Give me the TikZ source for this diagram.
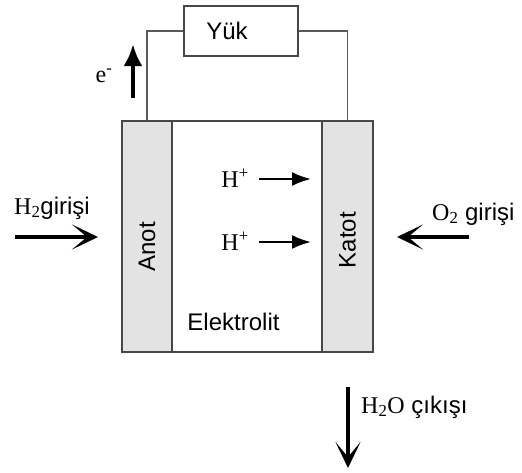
\documentclass[tikz,border=0pt]{standalone}
\usepackage{fontspec}
\setmainfont{Liberation Sans}
\newfontfamily\tms{Liberation Serif}
\usetikzlibrary{arrows.meta}
\begin{document}
\begin{tikzpicture}[x=1pt,y=-1pt,
  every node/.style={font=\fontsize{24}{27}\selectfont, inner sep=0pt},
  part/.style={draw=black!72, line width=1.8pt, minimum height=231pt, inner sep=0pt},
  strip/.style={part, fill=gray!22},
  wire/.style={draw=black!65, line width=1.5pt},
  bigarrow/.style={line width=4.2pt, -{Stealth[length=26pt, width=25pt, inset=15pt]}},
  uparrow/.style={line width=4.5pt, -{Latex[length=22pt, width=19pt]}},
  smallarrow/.style={line width=2.2pt, -{Latex[length=19pt, width=14pt]}}
]
\useasboundingbox (0,0) rectangle (522,472);

% cell parts
\node[strip, minimum width=50pt] (anot) at (147,236.5) {};
\node[part, minimum width=150pt] (elek) at (247,236.5) {};
\node[strip, minimum width=51pt] (katot) at (347.5,236.5) {};
\node[rotate=90] (anottxt) at (147,247) {Anot};
\node[rotate=90] (katottxt) at (347.5,240) {Katot};
\node (elektxt) at (233.5,322) {Elektrolit};

% load
\node[draw=black!72, line width=1.5pt, minimum width=114pt, minimum height=50pt] (yuk) at (241,31) {};
\node (yuktxt) at (227,31) {Yük};
\draw[wire] (yuk.west) -| (anot.north);
\draw[wire] (yuk.east) -| (katot.north);

% electron arrow
\coordinate (eS) at (133,98);
\coordinate (eE) at (133,44);
\draw[uparrow] (eS) -- (eE);
\node (etxt) at (104,76) {\tms e\textsuperscript{-}};

% H2 inlet
\coordinate (h2S) at (15,237);
\coordinate (h2E) at (98,237);
\draw[bigarrow] (h2S) -- (h2E);
\node[anchor=west] (h2txt) at (14,208) {{\tms H\textsubscript{2}}girişi};

% O2 inlet
\coordinate (o2S) at (469,237);
\coordinate (o2E) at (397,237);
\draw[bigarrow] (o2S) -- (o2E);
\node[anchor=west] (o2txt) at (432,214) {{\tms O\textsubscript{2}} girişi};

% protons
\coordinate (p1S) at (259,179);
\coordinate (p1E) at (311,179);
\coordinate (p2S) at (259,242);
\coordinate (p2E) at (311,242);
\draw[smallarrow] (p1S) -- (p1E);
\draw[smallarrow] (p2S) -- (p2E);
\node[anchor=east] (p1txt) at (249,178) {\tms H\textsuperscript{+}};
\node[anchor=east] (p2txt) at (249,241) {\tms H\textsuperscript{+}};

% water outlet
\coordinate (wS) at (348,387);
\coordinate (wE) at (348,468);
\draw[bigarrow] (wS) -- (wE);
\node[anchor=west] (wtxt) at (361,407) {{\tms H\textsubscript{2}O} çıkışı};
\end{tikzpicture}
\end{document}
